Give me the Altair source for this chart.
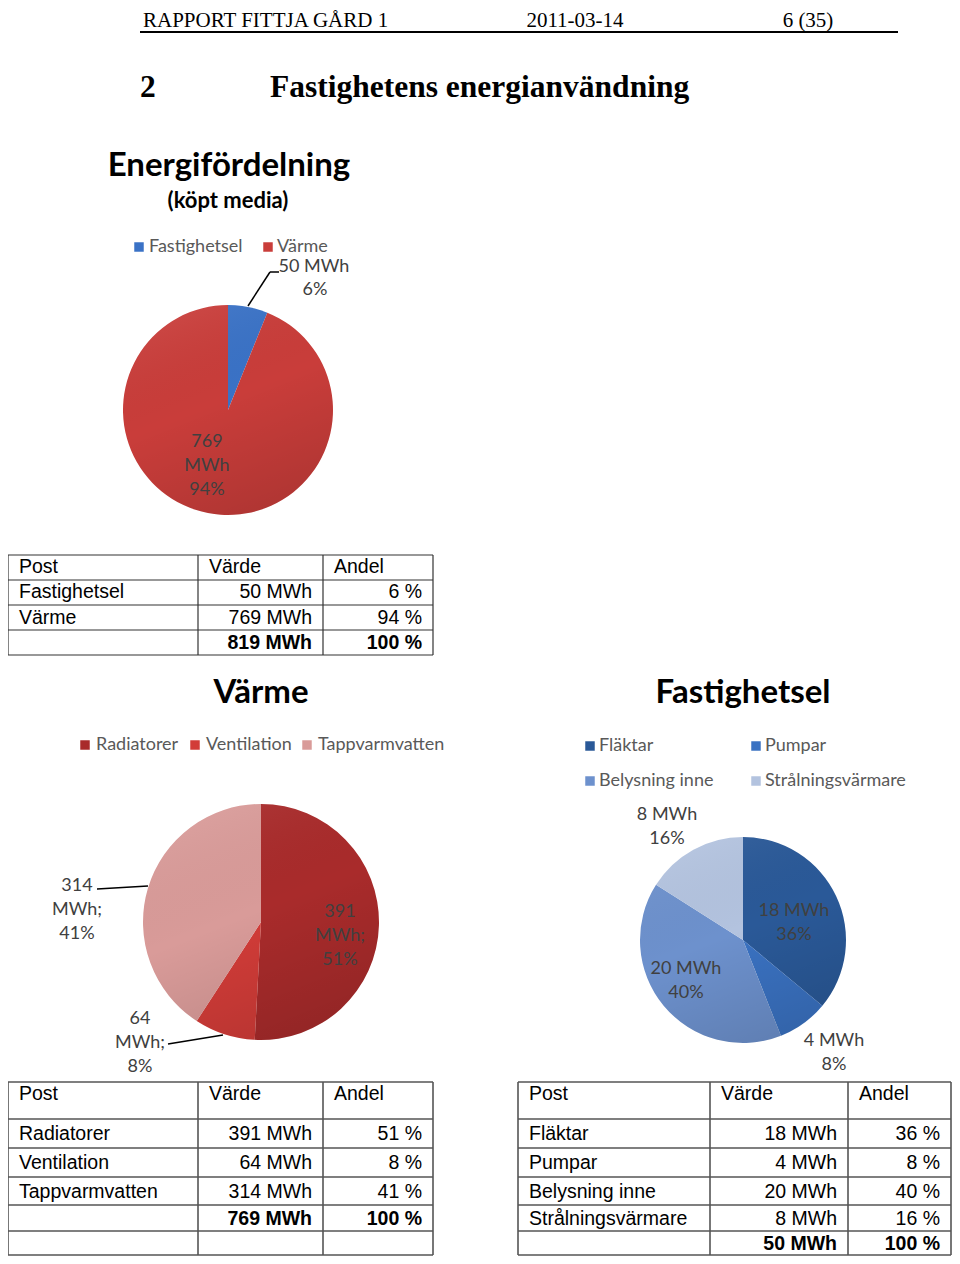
import altair as alt
import pandas as pd

# ---------------- data ----------------
header_left = "RAPPORT FITTJA GÅRD 1"
header_mid = "2011-03-14"
header_right = "6 (35)"
section_no = "2"
section_title = "Fastighetens energianvändning"

main_title = "Energifördelning"
main_subtitle = "(köpt media)"
main_cats = ["Fastighetsel", "Värme"]
main_vals = [50, 769]
main_pct = [6, 94]

heat_title = "Värme"
heat_cats = ["Radiatorer", "Ventilation", "Tappvarmvatten"]
heat_vals = [391, 64, 314]
heat_pct = [51, 8, 41]

el_title = "Fastighetsel"
el_cats = ["Fläktar", "Pumpar", "Belysning inne", "Strålningsvärmare"]
el_vals = [18, 4, 20, 8]
el_pct = [36, 8, 40, 16]

table_headers = ["Post", "Värde", "Andel"]
unit = "MWh"

# ---------------- styles ----------------
main_colors = ["#3a72c6", "#c93d3a"]
heat_colors = ["#a92b2b", "#d23c38", "#d99b99"]
el_colors = ["#2a5998", "#3a72c2", "#6d91cd", "#b3c3df"]

SERIF = "Liberation Serif"
SANS = "Liberation Sans"
CAL = "Lato"
W, H = 944, 1248
OX, OY = 8, 8


def X(field):
    return alt.X(field, type="quantitative", scale=None, axis=None)


def Y(field):
    return alt.Y(field, type="quantitative", scale=None, axis=None)


def texts(rows, size, font=SANS, weight="normal", color="#000000", align="left", baseline="middle"):
    df = pd.DataFrame({
        "label": [r[0] for r in rows],
        "x": [r[1] - OX for r in rows],
        "y": [r[2] - OY for r in rows],
    })
    return alt.Chart(df).mark_text(
        font=font, fontSize=size, fontWeight=weight, color=color,
        align=align, baseline=baseline
    ).encode(x=X("x"), y=Y("y"), text="label:N")


def rules(segs, color="#222222", width=1.0):
    df = pd.DataFrame({
        "x": [s[0] - OX for s in segs], "y": [s[1] - OY for s in segs],
        "x2": [s[2] - OX for s in segs], "y2": [s[3] - OY for s in segs],
    })
    return alt.Chart(df).mark_rule(color=color, strokeWidth=width).encode(
        x=X("x"), y=Y("y"), x2="x2:Q", y2="y2:Q")


def pie(cats, vals, colors, cx, cy, r):
    df = pd.DataFrame({"cat": cats, "val": vals, "idx": list(range(len(cats)))})
    base = alt.Chart(df).mark_arc(outerRadius=r).encode(
        theta=alt.Theta("val:Q", stack=True),
        color=alt.Color("cat:N", scale=alt.Scale(domain=cats, range=colors), legend=None),
        order=alt.Order("idx:Q"),
        x=alt.value(cx - OX), y=alt.value(cy - OY),
    )
    shade = alt.Chart(pd.DataFrame({"k": [0]})).mark_arc(
        outerRadius=r, theta=0, theta2=6.2832,
        fill=alt.LinearGradient(
            gradient="linear",
            stops=[alt.GradientStop(color="rgba(255,255,255,0.06)", offset=0),
                   alt.GradientStop(color="rgba(0,0,0,0.0)", offset=0.45),
                   alt.GradientStop(color="rgba(0,0,0,0.13)", offset=1)],
            x1=0.3, y1=0, x2=0.7, y2=1),
    ).encode(x=alt.value(cx - OX), y=alt.value(cy - OY))
    return [base, shade]


def squares(cats, colors, positions, size=90):
    df = pd.DataFrame({
        "cat": cats,
        "x": [p[0] - OX for p in positions],
        "y": [p[1] - OY for p in positions],
    })
    return alt.Chart(df).mark_square(size=size, opacity=1).encode(
        x=X("x"), y=Y("y"),
        color=alt.Color("cat:N", scale=alt.Scale(domain=cats, range=colors), legend=None),
    )


def table(cols, row_lines, row_centers, cats, vals, pcts, size, line_w, line_c):
    layers = []
    pad = 11
    segs = [(cols[0], y, cols[-1], y) for y in row_lines]
    segs += [(x, row_lines[0], x, row_lines[-1]) for x in cols]
    layers.append(rules(segs, color=line_c, width=line_w))
    hdr = [(table_headers[i], cols[i] + pad, row_centers[0]) for i in range(3)]
    layers.append(texts(hdr, size))
    body_left = [(c, cols[0] + pad, row_centers[i + 1]) for i, c in enumerate(cats)]
    layers.append(texts(body_left, size))
    body_v = [(f"{v} {unit}", cols[2] - pad, row_centers[i + 1]) for i, v in enumerate(vals)]
    body_p = [(f"{p} %", cols[3] - pad, row_centers[i + 1]) for i, p in enumerate(pcts)]
    layers.append(texts(body_v + body_p, size, align="right"))
    tr = row_centers[len(cats) + 1]
    tot = [(f"{sum(vals)} {unit}", cols[2] - pad, tr), (f"{sum(pcts)} %", cols[3] - pad, tr)]
    layers.append(texts(tot, size, weight="bold", align="right"))
    return layers


layers = []

# header
layers.append(texts([(header_left, 143, 26.5)], 21, font=SERIF, baseline="alphabetic"))
layers.append(texts([(header_mid, 575, 26.5), (header_right, 808, 26.5)], 21, font=SERIF,
                    align="center", baseline="alphabetic"))
layers.append(rules([(140, 32, 898, 32)], color="#000000", width=2))
layers.append(texts([(section_no, 140, 88), (section_title, 270, 88)], 31.5, font=SERIF, weight="bold"))

# ---- chart 1
layers.append(texts([(main_title, 229, 166)], 33, font=CAL, weight="bold", align="center"))
layers.append(texts([(main_subtitle, 228, 201)], 22, font=CAL, weight="bold", align="center"))
layers.append(squares(main_cats, main_colors, [(139, 247), (268, 247)]))
layers.append(texts([(main_cats[0], 149, 247), (main_cats[1], 277, 247)], 18, font=CAL, color="#595959"))
layers += pie(main_cats, main_vals, main_colors, 228, 410, 105)
layers.append(rules([(248, 306, 270, 272), (270, 272, 279, 272)], color="#000000", width=1.5))
lab1 = [(f"{main_vals[0]} {unit}", 314, 267), (f"{main_pct[0]}%", 315, 290),
        (f"{main_vals[1]}", 207, 442), (unit, 207, 466), (f"{main_pct[1]}%", 207, 490)]
layers.append(texts(lab1, 18, font=CAL, color="#404040", align="center"))

# ---- table 1
layers += table([8, 198, 323, 433], [555, 580, 605, 630, 655], [567, 592, 618, 643],
                main_cats, main_vals, main_pct, 19.5, 1.2, "#333333")

# ---- chart 2 (Värme)
layers.append(texts([(heat_title, 261, 693)], 33, font=CAL, weight="bold", align="center"))
layers.append(squares(heat_cats, heat_colors, [(85, 745), (195, 745), (307, 745)]))
layers.append(texts([(heat_cats[0], 96, 745), (heat_cats[1], 206, 745), (heat_cats[2], 318, 745)],
                    18, font=CAL, color="#595959"))
layers += pie(heat_cats, heat_vals, heat_colors, 261, 922, 118)
layers.append(rules([(97, 889, 148, 886), (168, 1044, 223, 1035)], color="#000000", width=1.5))
lab2 = [(f"{heat_vals[0]}", 340, 912), (f"{unit};", 340, 936), (f"{heat_pct[0]}%", 340, 960),
        (f"{heat_vals[2]}", 77, 886), (f"{unit};", 77, 910), (f"{heat_pct[2]}%", 77, 934),
        (f"{heat_vals[1]}", 140, 1019), (f"{unit};", 140, 1043), (f"{heat_pct[1]}%", 140, 1067)]
layers.append(texts(lab2, 18, font=CAL, color="#404040", align="center"))

# ---- chart 3 (Fastighetsel)
layers.append(texts([(el_title, 743, 693)], 33, font=CAL, weight="bold", align="center"))
layers.append(squares(el_cats, el_colors, [(590, 746), (756, 746), (590, 781), (756, 781)]))
layers.append(texts([(el_cats[0], 599, 746), (el_cats[1], 765, 746),
                     (el_cats[2], 599, 781), (el_cats[3], 765, 781)], 18, font=CAL, color="#595959"))
layers += pie(el_cats, el_vals, el_colors, 743, 940, 103)
lab3 = [(f"{el_vals[3]} {unit}", 667, 815), (f"{el_pct[3]}%", 667, 839),
        (f"{el_vals[0]} {unit}", 794, 911), (f"{el_pct[0]}%", 794, 935),
        (f"{el_vals[2]} {unit}", 686, 969), (f"{el_pct[2]}%", 686, 993),
        (f"{el_vals[1]} {unit}", 834, 1041), (f"{el_pct[1]}%", 834, 1065)]
layers.append(texts(lab3, 18, font=CAL, color="#404040", align="center"))

# ---- bottom tables
bottom_lines = [1082, 1119, 1148, 1177, 1205, 1231, 1255]
bottom_centers = [1094, 1134, 1163, 1192, 1219, 1244]
layers += table([8, 198, 323, 433], bottom_lines, bottom_centers,
                heat_cats, heat_vals, heat_pct, 19.5, 1.6, "#555555")
layers += table([518, 710, 848, 951], bottom_lines, bottom_centers,
                el_cats, el_vals, el_pct, 19.5, 1.6, "#555555")

chart = alt.layer(*layers).resolve_scale(
    theta="independent", color="independent"
).properties(
    width=W, height=H, padding=0, autosize=alt.AutoSizeParams(type="none"),
    background="#ffffff"
).configure_view(stroke=None)

chart.save("out.html", embed_options={"renderer": "svg", "actions": False})
